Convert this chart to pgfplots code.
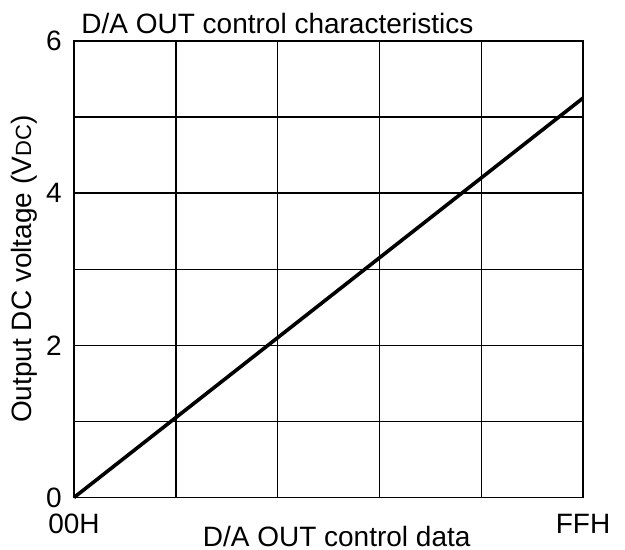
\documentclass[border=0pt]{standalone}
\usepackage{fontspec}
\setmainfont{Liberation Sans}
\usepackage{pgfplots}
\pgfplotsset{compat=1.18}
\begin{document}
\begin{tikzpicture}
\path[use as bounding box] (-37pt,-26.25pt) rectangle (275.5pt,248.75pt);
\begin{axis}[
  at={(0pt,0pt)}, anchor=south west,
  scale only axis, width=254.5pt, height=228.25pt,
  xmin=0, xmax=255, ymin=0, ymax=6,
  xtick={0,51,102,153,204,255},
  xticklabels={00H,,,,,FFH},
  ytick={0,1,2,3,4,5,6},
  yticklabels={0,,2,,4,,6},
  major tick length=0pt,
  grid=major,
  grid style={black, line width=0.7pt},
  axis line style={black, line width=0.7pt},
  tick label style={font=\fontsize{14}{16}\selectfont, inner sep=2pt},
  /pgf/number format/assume math mode=true,
  yticklabel style={xshift=-4pt},
  xticklabel style={yshift=-6pt},
  xlabel={D/A OUT control data},
  xlabel style={at={(rel axis cs:0.516,0)}, anchor=north, inner sep=0pt, yshift=-14pt, font=\fontsize{14}{16}\selectfont},
  ylabel={Output DC voltage (V{\fontsize{11}{12}\selectfont DC})},
  ylabel style={at={([xshift=-25pt]rel axis cs:0,0.5)}, anchor=center, inner sep=0pt, font=\fontsize{14}{16}\selectfont},
  clip=false,
]
\addplot[black, line width=1.8pt] coordinates {(0,0) (255,5.25)};
\node[anchor=base west, inner sep=0pt, font=\fontsize{14}{16}\selectfont] at (rel axis cs:0,1) [xshift=3.5pt, yshift=4pt] {D/A OUT control characteristics};
\end{axis}
\end{tikzpicture}
\end{document}
